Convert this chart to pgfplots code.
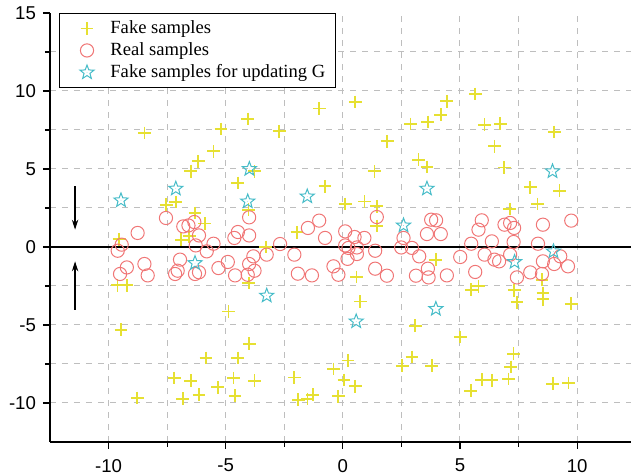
\documentclass[border=0pt]{standalone}
\usepackage{fontspec}
\setmainfont{Liberation Serif}
\newfontfamily\arial{Liberation Sans}
\usepackage{pgfplots}
\pgfplotsset{compat=1.18}
\usepackage{pgfplotstable}
\usetikzlibrary{arrows.meta,plotmarks}

\definecolor{fakeY}{RGB}{230,224,50}
\definecolor{realR}{RGB}{240,118,118}
\definecolor{starC}{RGB}{70,188,200}
\definecolor{gridG}{RGB}{190,190,190}

% open five-pointed star
\pgfdeclareplotmark{ostar}{%
  \pgfpathmoveto{\pgfpointpolar{90}{\pgfplotmarksize}}%
  \pgfpathlineto{\pgfpointpolar{126}{0.42\pgfplotmarksize}}%
  \pgfpathlineto{\pgfpointpolar{162}{\pgfplotmarksize}}%
  \pgfpathlineto{\pgfpointpolar{198}{0.42\pgfplotmarksize}}%
  \pgfpathlineto{\pgfpointpolar{234}{\pgfplotmarksize}}%
  \pgfpathlineto{\pgfpointpolar{270}{0.42\pgfplotmarksize}}%
  \pgfpathlineto{\pgfpointpolar{306}{\pgfplotmarksize}}%
  \pgfpathlineto{\pgfpointpolar{342}{0.42\pgfplotmarksize}}%
  \pgfpathlineto{\pgfpointpolar{18}{\pgfplotmarksize}}%
  \pgfpathlineto{\pgfpointpolar{54}{0.42\pgfplotmarksize}}%
  \pgfpathclose
  \pgfusepathqstroke
  \pgfpathcircle{\pgfpointorigin}{0.15pt}%
  \pgfusepathqfill
}

\pgfplotstableread{
x y
-8.47 7.31
-5.20 7.56
-4.06 8.21
-2.72 7.41
-1.01 8.88
-5.52 6.13
-6.17 5.49
-6.49 4.85
-4.48 4.10
-3.77 4.85
-0.76 3.89
-7.54 2.71
-7.13 2.88
-6.31 2.18
-4.03 2.39
0.10 2.75
0.53 9.29
4.44 9.34
4.18 8.48
5.65 9.81
2.89 7.88
3.63 8.01
6.05 7.84
6.72 7.90
1.90 6.77
6.47 6.45
9.02 7.37
3.23 5.60
3.59 5.13
6.89 5.10
1.35 4.85
8.00 3.82
9.25 3.61
8.31 2.75
7.13 2.43
0.92 2.92
1.45 2.61
1.45 1.35
-5.90 1.50
-6.90 0.47
-6.56 0.68
-1.96 0.95
-3.29 0.00
-9.55 0.50
3.97 -0.81
0.58 -1.92
-4.02 -2.31
-9.62 -2.45
-9.22 -2.45
5.48 -2.74
5.79 -2.52
7.31 -2.78
7.43 -3.55
8.50 -2.10
8.54 -2.95
8.54 -3.35
9.75 -3.63
0.74 -3.49
-9.47 -5.30
-4.88 -4.13
-3.99 -6.20
-4.48 -7.12
-5.84 -7.12
-7.20 -8.40
-6.49 -8.57
-4.67 -8.40
-3.77 -8.57
-5.34 -9.00
-6.14 -9.47
-6.83 -9.72
-4.60 -9.53
-8.77 -9.68
-2.07 -8.36
-1.90 -9.79
-1.51 -9.74
-1.28 -9.47
-0.40 -7.82
-0.19 -9.57
0.22 -7.28
0.05 -8.53
0.53 -8.93
3.09 -5.05
5.01 -5.77
2.95 -7.05
2.54 -7.61
3.80 -7.61
7.28 -6.84
7.17 -7.69
7.07 -8.46
5.93 -8.51
6.36 -8.55
5.46 -9.21
8.96 -8.76
9.63 -8.72
}\fakedata

\pgfplotstableread{
x y
-7.55 1.86
-8.76 0.90
-9.44 0.15
-9.61 -0.24
-9.22 -1.31
-9.51 -1.73
-8.47 -1.09
-8.33 -1.82
-6.81 1.32
-6.59 1.38
-6.34 1.60
-6.14 0.74
-6.28 0.10
-5.81 -0.28
-5.52 0.21
-6.95 -0.81
-7.16 -1.73
-7.05 -1.52
-6.31 -1.73
-6.14 -1.62
-5.31 -1.35
-4.91 -0.96
-4.60 -1.82
-4.00 1.90
-4.48 0.96
-4.63 0.58
-4.00 0.74
-3.82 -0.60
-4.00 -1.09
-3.77 -1.52
-4.06 -1.78
-3.25 -0.49
-2.68 0.19
-2.07 -0.49
-1.92 -1.71
-1.32 -1.82
-1.49 1.22
-1.01 1.69
-0.76 0.58
-0.40 -1.24
-0.19 -1.78
0.10 1.00
0.10 0.10
0.20 -0.76
1.45 1.92
0.50 0.64
0.92 0.58
0.24 -0.06
0.60 -0.03
0.60 -0.45
1.38 -0.24
1.38 -1.39
1.88 -1.84
2.59 0.58
2.49 -0.03
2.95 -0.06
3.26 -0.60
3.77 1.75
3.98 1.71
3.59 0.83
4.18 0.83
3.63 -1.39
3.12 -1.84
3.66 -1.95
4.44 -1.82
5.93 1.71
5.79 1.11
5.48 0.21
6.36 0.36
5.01 -0.64
6.05 -0.49
6.47 -0.81
6.67 -0.92
5.65 -1.60
6.90 1.43
7.14 1.54
7.31 1.22
7.29 0.32
7.14 -0.49
7.43 -1.95
8.00 -1.63
8.50 -1.73
8.54 -0.92
8.33 0.21
8.54 1.43
9.28 -0.60
9.02 -1.09
9.61 -1.24
9.75 1.69
}\realdata

\pgfplotstableread{
x y
-9.47 2.99
-7.13 3.74
-3.99 5.00
-4.06 2.92
-1.52 3.24
3.59 3.74
8.95 4.85
2.59 1.38
-6.31 -1.03
7.33 -0.96
8.99 -0.28
-3.25 -3.12
0.57 -4.77
3.97 -3.97
}\gdata

\begin{document}
\begin{tikzpicture}
\begin{axis}[
  scale only axis,
  width=290.5pt, height=214.5pt,
  xmin=-12.5, xmax=12.3,
  ymin=-12.5, ymax=15,
  axis lines=left,
  axis line style={-, line width=0.7pt},
  xtick={-10,-5,...,10},
  ytick={-10,-5,...,10},
  extra y ticks={15},
  extra y tick style={grid=none},
  minor xtick={-7.5,-2.5,2.5,7.5},
  minor ytick={-7.5,-2.5,2.5,7.5,12.5},
  tick align=outside,
  major tick length=3.5pt,
  minor tick length=2.5pt,
  every tick/.style={black, line width=0.6pt},
  grid=both,
  major grid style={gridG, dashed, line width=0.5pt},
  minor grid style={gridG, dashed, line width=0.5pt},
  /pgf/number format/assume math mode=true,
  tick label style={font=\arial\fontsize{9.3}{10}\selectfont},
  xticklabel style={yshift=-1.5pt},
  legend cell align=left,
  legend style={at={(rel axis cs:0.0155,1)}, anchor=north west,
    draw=black, line width=0.6pt, fill=white,
    font=\fontsize{9.3}{10}\selectfont,
    nodes={inner ysep=1.5pt}},
  legend image code/.code={%
    \path[draw=none, fill=none] (0pt,0pt) rectangle (20.4pt,0pt);
    \draw[only marks] plot coordinates {(10.7pt,0pt)};},
]
\addplot[only marks, mark=+, mark size=3.2pt, fakeY, line width=0.9pt] table {\fakedata};
\addlegendentry{Fake samples}
\addplot[only marks, mark=o, mark size=3.3pt, realR, line width=0.5pt] table {\realdata};
\addlegendentry{Real samples}
\addplot[only marks, mark=ostar, mark size=3.7pt, starC, line width=0.5pt] table {\gdata};
\addlegendentry{Fake samples for updating G}
\draw[black, line width=0.6pt] (axis cs:-12.5,0) -- (axis cs:12.3,0);
\draw[-{Stealth[length=5pt,width=3.2pt]}, line width=0.6pt] (axis cs:-11.43,3.88) -- (axis cs:-11.43,1.11);
\draw[-{Stealth[length=5pt,width=3.2pt]}, line width=0.6pt] (axis cs:-11.43,-4.02) -- (axis cs:-11.43,-0.92);
\coordinate (SW) at (rel axis cs:0,0);
\coordinate (NE) at (rel axis cs:1,1);
\end{axis}
\pgfresetboundingbox
\path ([xshift=-25pt,yshift=-16pt]SW) rectangle ([yshift=6.5pt]NE);
\end{tikzpicture}
\end{document}
